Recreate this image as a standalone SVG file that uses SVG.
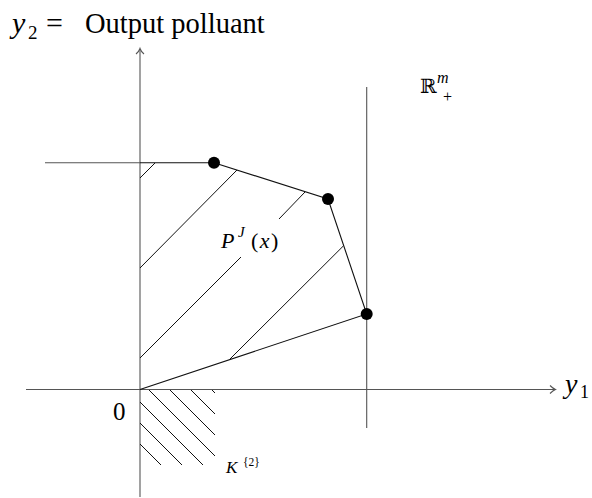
<svg xmlns="http://www.w3.org/2000/svg" width="592" height="498" viewBox="0 0 592 498">
<style>
.axis{stroke:#555;stroke-width:1.1;fill:none}
.edge{stroke:#111;stroke-width:1.1;fill:none}
.hatch{stroke:#111;stroke-width:1;fill:none}
.dot{fill:#000}
.serif{font-family:"Liberation Serif","DejaVu Serif",serif;fill:#000}
.it{font-style:italic}
</style>
<rect width="592" height="498" fill="#fff"/>
<g id="axes">
<line class="axis" x1="140" y1="497" x2="140" y2="49"/>
<path class="axis" d="M136,54 Q139,51.5 140,48.5 Q141,51.5 144,54"/>
<line class="axis" x1="26" y1="389.5" x2="555" y2="389.5"/>
<path class="axis" d="M550,385.5 Q553,388.5 555.5,389.5 Q553,390.5 550,393.5"/>
<line class="axis" x1="366.7" y1="87" x2="366.7" y2="428"/>
<line class="axis" x1="45" y1="162.7" x2="140" y2="162.7"/>
</g>
<g id="connectors">
<line class="edge" x1="140" y1="162.7" x2="214" y2="162.7"/>
<polyline class="edge" points="214,162.7 328,199 366.7,314 140,389.5"/>
</g>
<g id="hatch-P">
<line class="hatch" x1="140" y1="178" x2="155" y2="163"/>
<line class="hatch" x1="140" y1="268" x2="237" y2="170"/>
<line class="hatch" x1="140" y1="358" x2="241" y2="257"/>
<line class="hatch" x1="279" y1="219" x2="305" y2="192"/>
<line class="hatch" x1="229.6" y1="359.4" x2="343.3" y2="246"/>
</g>
<g id="hatch-K">
<line class="hatch" x1="140" y1="444" x2="161" y2="465"/>
<line class="hatch" x1="140" y1="423" x2="182" y2="465"/>
<line class="hatch" x1="140" y1="402" x2="203" y2="465"/>
<line class="hatch" x1="149" y1="390" x2="215" y2="456"/>
<line class="hatch" x1="170" y1="390" x2="215" y2="435"/>
<line class="hatch" x1="191" y1="390" x2="215" y2="414"/>
<line class="hatch" x1="212" y1="390" x2="215" y2="393"/>
</g>
<g id="points">
<circle class="dot" cx="214" cy="162.7" r="6"/>
<circle class="dot" cx="328" cy="199" r="6"/>
<circle class="dot" cx="366.7" cy="314" r="6"/>
</g>
<g id="labels">
<text class="serif" y="33"><tspan class="it" x="12" font-size="30">y</tspan><tspan x="28" y="39" font-size="19">2</tspan><tspan x="46" y="33" font-size="30">=</tspan><tspan x="85" y="33" font-size="28.5">Output polluant</tspan></text>
<text class="serif" y="393"><tspan class="it" x="565" font-size="28">y</tspan><tspan x="580" y="398" font-size="18">1</tspan></text>
<text class="serif" x="113" y="420" font-size="25">0</text>
<text class="serif" y="248"><tspan class="it" x="221" font-size="22">P</tspan><tspan class="it" x="238" y="237" font-size="15">J</tspan><tspan x="251" y="248" font-size="22" letter-spacing="1.5">(</tspan><tspan class="it" font-size="22" letter-spacing="1.5">x</tspan><tspan font-size="22">)</tspan></text>
<text class="serif" y="473"><tspan class="it" x="226" font-size="17">K</tspan><tspan x="243" y="466" font-size="11.5">{2}</tspan></text>
<text x="420" y="93" font-family="DejaVu Serif, serif" font-size="20">ℝ</text>
<text class="serif it" x="437" y="83" font-size="16">m</text>
<text class="serif" x="443" y="102" font-size="16">+</text>
</g>
</svg>
